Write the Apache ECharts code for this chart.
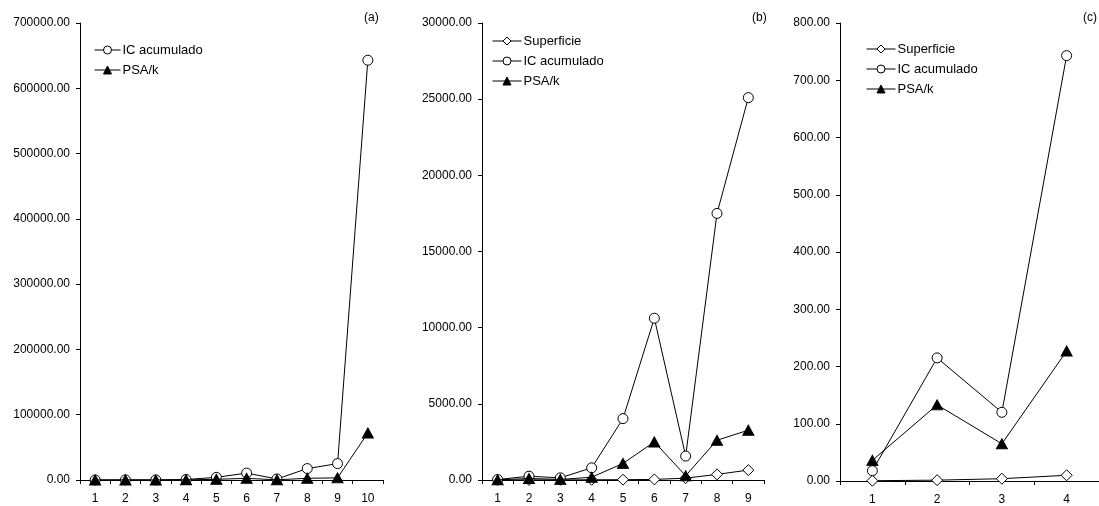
<!DOCTYPE html>
<html>
<head>
<meta charset="utf-8">
<script src="https://cdn.jsdelivr.net/npm/echarts@6/dist/echarts.min.js"></script>
<style>html,body{margin:0;padding:0;background:#fff}#c{width:1099px;height:506px}</style>
</head>
<body>
<div id="c"></div>
<script>
// Panel (a)
const catsA = ['1','2','3','4','5','6','7','8','9','10'];
const icA  = [30, 250, 140, 800, 4030, 10620, 1570, 17500, 25100, 643000];
const psaA = [10, 100, 40, 180, 1090, 2500, 280, 2610, 3270, 72000];
// Panel (b)
const catsB = ['1','2','3','4','5','6','7','8','9'];
const supB = [2, 5, 8, 15, 20, 40, 120, 370, 650];
const icB  = [30, 250, 140, 800, 4030, 10620, 1570, 17500, 25100];
const psaB = [10, 100, 40, 180, 1090, 2500, 280, 2610, 3270];
// Panel (c)
const catsC = ['1','2','3','4'];
const supC = [0.5, 1.5, 4, 10];
const icC  = [18, 215, 120, 743];
const psaC = [36, 133, 65, 227];
const panelLabels = ['(a)', '(b)', '(c)'];

const FONT = '"Liberation Sans", Arial, sans-serif';
const black = '#000';

function xAxis(gi, cats) {
  return {
    type: 'category', gridIndex: gi, data: cats, boundaryGap: true,
    axisLine: {show: true, lineStyle: {color: black, width: 1}},
    axisTick: {show: true, inside: false, length: 4, lineStyle: {color: black}},
    axisLabel: {color: black, fontFamily: FONT, fontSize: 12, margin: 13},
    splitLine: {show: false}
  };
}
function yAxis(gi, max, interval) {
  return {
    type: 'value', gridIndex: gi, min: 0, max: max, interval: interval,
    axisLine: {show: true, lineStyle: {color: black, width: 1}},
    axisTick: {show: true, length: 4, lineStyle: {color: black}},
    axisLabel: {color: black, fontFamily: FONT, fontSize: 12, margin: 10,
      formatter: v => v.toFixed(2)},
    splitLine: {show: false}
  };
}
function line(name, gi, data, kind) {
  const s = {
    name: name, type: 'line', xAxisIndex: gi, yAxisIndex: gi, data: data,
    lineStyle: {color: black, width: 1}, animation: false, z: 2,
    emphasis: {disabled: true}
  };
  if (kind === 'circle') {
    s.symbol = 'circle'; s.symbolSize = 10;
    s.itemStyle = {color: '#fff', borderColor: black, borderWidth: 1};
  } else if (kind === 'diamond') {
    s.symbol = 'diamond'; s.symbolSize = [11, 11];
    s.itemStyle = {color: '#fff', borderColor: black, borderWidth: 1};
  } else {
    s.symbol = 'triangle'; s.symbolSize = [11, 10];
    s.itemStyle = {color: black, borderColor: black, borderWidth: 1};
    s.z = 3;
  }
  return s;
}
function legend(left, top, names, w) {
  return {
    orient: 'vertical', left: left, top: top, data: names, padding: 0,
    itemWidth: w, itemHeight: 10, itemGap: 6, selectedMode: false,
    lineStyle: {width: 1, color: black},
    itemStyle: {borderWidth: 1},
    textStyle: {color: black, fontFamily: FONT, fontSize: 13, lineHeight: 14,
      padding: [0, 0, 0, -3]}
  };
}

const chart = echarts.init(document.getElementById('c'), null, {renderer: 'canvas'});
chart.setOption({
  backgroundColor: '#fff',
  animation: false,
  grid: [
    {left: 80, top: 23, width: 303, height: 457},
    {left: 482, top: 23, width: 282, height: 457},
    {left: 840, top: 23, width: 265, height: 460}
  ],
  xAxis: [xAxis(0, catsA), xAxis(1, catsB), xAxis(2, catsC)],
  yAxis: [yAxis(0, 700000, 100000), yAxis(1, 30000, 5000), yAxis(2, 800, 100)],
  legend: [
    legend(94, 43, ['IC acumulado', 'PSA/k'], 26),
    legend(492, 34, ['Superficie', 'IC acumulado', 'PSA/k'], 29),
    legend(866, 42, ['Superficie', 'IC acumulado', 'PSA/k'], 29)
  ],
  graphic: [
    {type: 'text', left: 364, top: 12, style: {text: panelLabels[0], fill: black, font: '12px ' + FONT}},
    {type: 'text', left: 752, top: 12, style: {text: panelLabels[1], fill: black, font: '12px ' + FONT}},
    {type: 'text', left: 1083, top: 12, style: {text: panelLabels[2], fill: black, font: '12px ' + FONT}}
  ],
  series: [
    line('IC acumulado', 0, icA, 'circle'),
    line('PSA/k', 0, psaA, 'triangle'),
    line('Superficie', 1, supB, 'diamond'),
    line('IC acumulado', 1, icB, 'circle'),
    line('PSA/k', 1, psaB, 'triangle'),
    line('Superficie', 2, supC, 'diamond'),
    line('IC acumulado', 2, icC, 'circle'),
    line('PSA/k', 2, psaC, 'triangle')
  ]
});
</script>
</body>
</html>
